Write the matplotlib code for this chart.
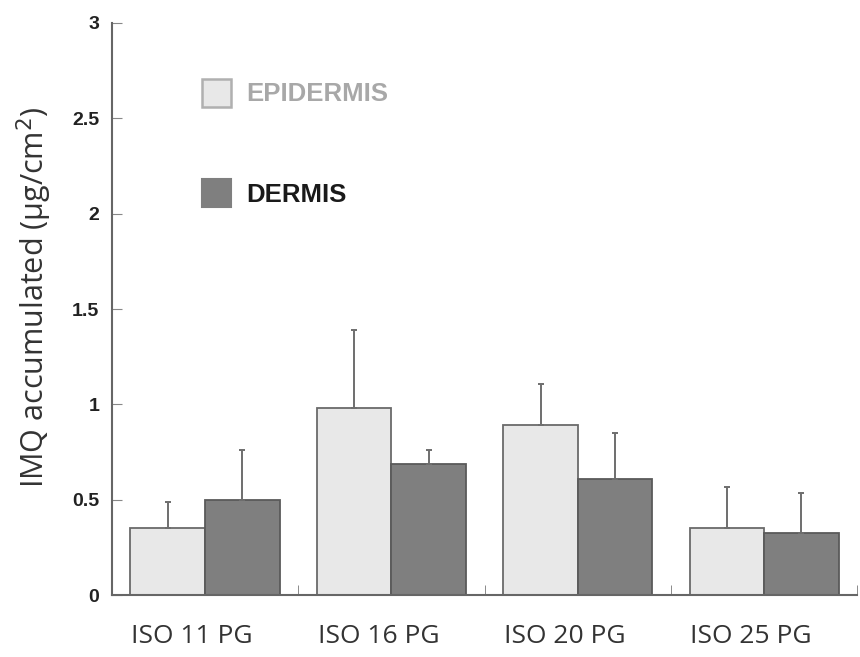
import numpy as np
import matplotlib.pyplot as plt

# Data
groups = ['ISO 11 PG', 'ISO 16 PG', 'ISO 20 PG', 'ISO 25 PG']
epidermis = [0.35, 0.98, 0.89, 0.35]
epidermis_err = [0.14, 0.41, 0.22, 0.22]
dermis = [0.50, 0.69, 0.61, 0.325]
dermis_err = [0.26, 0.07, 0.24, 0.21]
yticks = [0, 0.5, 1, 1.5, 2, 2.5, 3]
yticklabels = ['0', '0.5', '1', '1.5', '2', '2.5', '3']

fig = plt.figure(figsize=(8.6, 6.57), dpi=100)
ax = fig.add_axes([0.130, 0.094, 0.867, 0.871])

x = np.arange(len(groups))
w = 0.4
err_kw = dict(ecolor='#6e6e6e', elinewidth=1.4, capsize=2.5, capthick=1.4)

ax.bar(x - w / 2, epidermis, w, color='#e8e8e8', edgecolor='#6a6a6a', linewidth=1.3,
       yerr=[np.zeros(4), epidermis_err], error_kw=err_kw, zorder=2)
ax.bar(x + w / 2, dermis, w, color='#7f7f7f', edgecolor='#5a5a5a', linewidth=1.3,
       yerr=[np.zeros(4), dermis_err], error_kw=err_kw, zorder=2)

ax.set_xlim(-0.5, len(groups) - 0.5)
ax.set_ylim(0, 3)

# y axis
ax.set_yticks(yticks)
ax.set_yticklabels(yticklabels, fontfamily='Liberation Sans', fontweight='bold',
                   fontsize=14, color='#222222')
ax.set_ylabel('IMQ accumulated (\u03bcg/cm$^2$)', fontfamily='Open Sans',
              fontsize=22, color='#333333')
ax.yaxis.set_label_coords(-0.077, 0.52)

# x axis: labels near group centres, tick marks at boundaries
ax.set_xticks(x - 0.07)
ax.set_xticklabels(groups, fontfamily='Open Sans', fontsize=19, color='#333333')
ax.tick_params(axis='x', length=0, pad=21)
ax.set_xticks(np.arange(len(groups) + 1) - 0.5, minor=True)
ax.tick_params(axis='x', which='minor', direction='in', length=7, color='#777777')
ax.tick_params(axis='y', direction='in', length=7, color='#888888', pad=9)

for s in ['top', 'right']:
    ax.spines[s].set_visible(False)
for s in ['left', 'bottom']:
    ax.spines[s].set_color('#666666')
    ax.spines[s].set_linewidth(1.5)

# legend drawn as boxes + text
ax.add_patch(plt.Rectangle((0.121, 0.853), 0.039, 0.049, transform=ax.transAxes,
                           facecolor='#e8e8e8', edgecolor='#b0b0b0', linewidth=1.8))
ax.text(0.180, 0.876, 'EPIDERMIS', transform=ax.transAxes, fontfamily='Liberation Sans',
        fontweight='bold', fontsize=18.5, color='#a8a8a8', va='center')
ax.add_patch(plt.Rectangle((0.121, 0.678), 0.039, 0.049, transform=ax.transAxes,
                           facecolor='#7f7f7f', edgecolor='#7f7f7f', linewidth=1.5))
ax.text(0.180, 0.700, 'DERMIS', transform=ax.transAxes, fontfamily='Liberation Sans',
        fontweight='bold', fontsize=18.5, color='#1a1a1a', va='center')

fig.savefig('out.png', dpi=100)
